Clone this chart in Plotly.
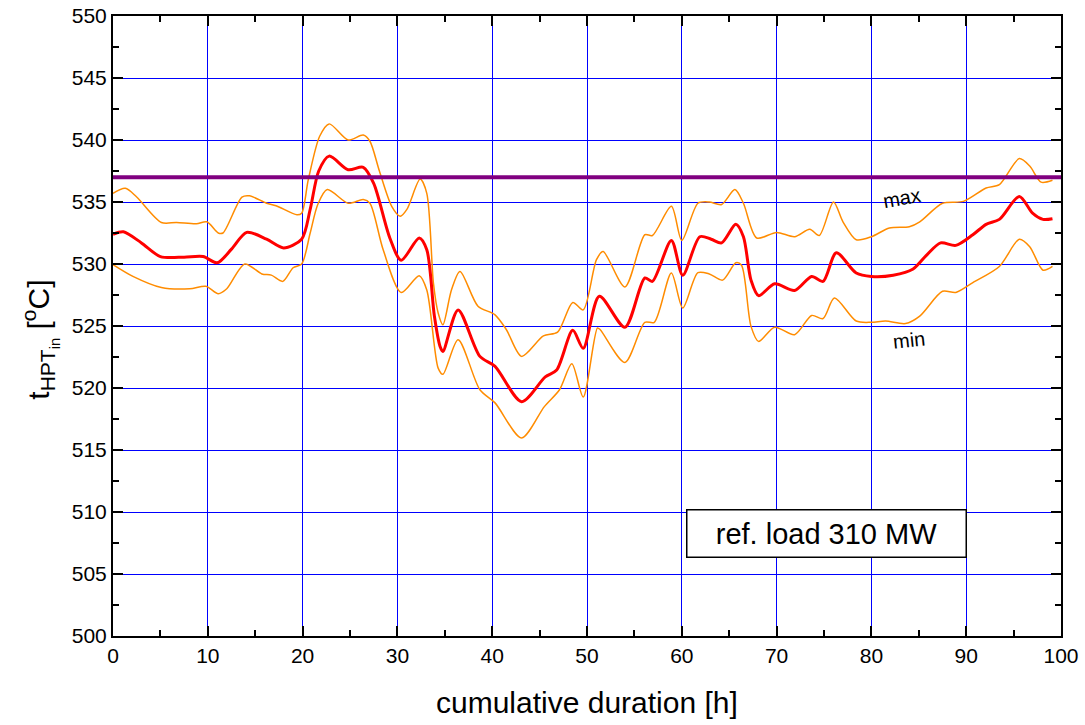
import plotly.graph_objects as go

# mean inlet temperature
mean_x = [0, 1.1, 3, 5, 7.5, 9.5, 11, 12.5, 14.1, 16.2, 18, 19.9, 20.8, 21.7, 22.8, 24.8, 26.4, 27.5, 29.2, 30.4,
          32.3, 33.1, 33.9, 34.5, 34.8, 36.4, 38.7, 40.3, 43.1, 45.6, 46.8, 48.5, 49.6, 51.3, 54.0, 56.1, 56.9,
          58.9, 60.1, 61.9, 63.1, 64.2, 65.7, 66.5, 67.3, 68.1, 69.8, 71.9, 73.7, 74.9, 76.3, 78.4, 80.0, 82.3,
          84.4, 85.8, 87.3, 88.9, 90.7, 92.1, 93.5, 95.6, 97.0, 98.1, 99.1]
mean_y = [532.4, 532.6, 531.7, 530.6, 530.55, 530.6, 530.1, 531.2, 532.55, 532.0, 531.3, 532.0, 534.4, 537.5,
          538.7, 537.6, 537.8, 536.5, 532.1, 530.3, 532.1, 531.15, 525.8, 523.35, 522.95, 526.3, 522.55, 521.75,
          518.9, 520.9, 521.45, 524.65, 523.2, 527.4, 524.9, 528.87, 528.6, 531.9, 529.1, 532.2, 532.0, 531.7,
          533.2, 532.2, 528.7, 527.45, 528.4, 527.87, 529.0, 528.6, 530.9, 529.27, 529.0, 529.1, 529.6, 530.7,
          531.7, 531.5, 532.36, 533.2, 533.6, 535.45, 534.1, 533.6, 533.65]

# upper envelope (max)
max_x = [0, 1.3, 2.5, 5.1, 6.7, 8.8, 9.9, 11.1, 11.6, 13.6, 14.4, 16.2, 17.2, 19.4, 19.9, 20.6, 21.8, 22.8, 24.8,
         26.4, 27.1, 28.1, 29.4, 30.3, 31.0, 32.4, 33.1, 33.8, 34.3, 34.8, 35.7, 36.6, 38.5, 40.3, 41.5, 43.1,
         45.4, 46.9, 48.5, 49.6, 51.0, 51.7, 54.0, 56.1, 56.9, 58.9, 60.0, 61.7, 62.9, 64.2, 65.6, 66.5, 67.9,
         70.0, 71.9, 73.5, 74.5, 76.0, 77.0, 78.4, 80.0, 81.9, 84.0, 85.1, 87.5, 89.7, 92.1, 93.5, 95.6, 96.7,
         97.9, 99.1]
max_y = [535.7, 536.1, 535.4, 533.35, 533.35, 533.25, 533.4, 532.5, 532.5, 535.4, 535.5, 534.9, 534.7, 533.97,
         534.1, 536.8, 540.3, 541.3, 540.0, 540.4, 539.9, 537.5, 534.65, 533.85, 534.4, 536.85, 535.7, 528.47,
         526.05, 525.1, 527.9, 529.4, 526.6, 525.9, 524.7, 522.55, 524.2, 524.5, 526.9, 526.3, 530.35, 531.0,
         528.15, 532.36, 532.3, 534.65, 531.9, 534.9, 535.0, 534.8, 536.0, 534.9, 532.1, 532.55, 532.2, 532.8,
         532.3, 535.0, 533.4, 531.96, 532.2, 532.9, 533.0, 533.4, 534.9, 535.05, 536.13, 536.4, 538.5, 537.9,
         536.6, 536.75]

# lower envelope (min)
min_x = [0, 2.1, 5.1, 8.1, 9.8, 11.1, 12.0, 13.9, 15.7, 16.7, 17.9, 19.0, 19.9, 20.8, 21.6, 22.6, 24.8, 26.4,
         27.1, 28.5, 30.4, 32.3, 33.1, 34.3, 34.8, 36.4, 38.7, 40.3, 43.1, 45.5, 47.1, 48.4, 49.6, 51.1, 51.4,
         54.0, 56.1, 57.1, 58.9, 60.1, 61.7, 62.9, 64.3, 65.7, 66.3, 67.3, 68.1, 69.8, 71.9, 73.7, 74.9, 76.1,
         78.4, 80.0, 81.5, 83.6, 85.1, 87.5, 88.9, 90.7, 93.5, 95.6, 96.7, 98.1, 99.1]
min_y = [529.95, 529.0, 528.1, 528.0, 528.2, 527.6, 528.0, 530.0, 529.2, 529.1, 528.6, 529.7, 530.0, 532.5,
         534.8, 536.0, 534.9, 535.2, 534.9, 531.15, 527.7, 529.05, 527.9, 521.6, 521.1, 523.9, 519.86, 518.8,
         515.97, 518.5, 519.86, 521.96, 519.27, 524.84, 524.7, 522.06, 525.3, 525.3, 529.27, 526.45, 529.3,
         529.2, 528.7, 530.1, 529.9, 524.97, 523.76, 524.9, 524.3, 525.85, 525.6, 527.26, 525.4, 525.3, 525.4,
         525.2, 525.8, 527.8, 527.7, 528.5, 529.8, 532.0, 531.4, 529.5, 529.8]

limit_x = [0, 100]
limit_y = [537, 537]

x_ticks = list(range(0, 101, 10))
y_ticks = list(range(500, 551, 5))

FONT = "Liberation Sans, Arial, sans-serif"

fig = go.Figure()
fig.add_trace(go.Scatter(x=max_x, y=max_y, mode="lines",
                         line=dict(color="#FF8C00", width=1.5, shape="spline", smoothing=0.8), showlegend=False))
fig.add_trace(go.Scatter(x=min_x, y=min_y, mode="lines",
                         line=dict(color="#FF8C00", width=1.5, shape="spline", smoothing=0.8), showlegend=False))
fig.add_trace(go.Scatter(x=mean_x, y=mean_y, mode="lines",
                         line=dict(color="#FF0000", width=3, shape="spline", smoothing=0.8), showlegend=False))
fig.add_trace(go.Scatter(x=limit_x, y=limit_y, mode="lines",
                         line=dict(color="#800080", width=4), showlegend=False))

axis_common = dict(showline=True, linecolor="black", linewidth=2, mirror="ticks",
                   ticks="inside", tickcolor="black", tickwidth=2, ticklen=10,
                   showgrid=True, gridcolor="#0000FF", gridwidth=1, zeroline=False,
                   automargin=False,
                   tickfont=dict(family=FONT, size=21, color="black"))

fig.update_xaxes(range=[0, 100], tickvals=x_ticks, ticktext=[str(v) for v in x_ticks],
                 minor=dict(ticks="inside", ticklen=6, tickcolor="black", tickwidth=2, dtick=5, showgrid=False),
                 **axis_common)
fig.update_yaxes(range=[500, 550], tickvals=y_ticks, ticktext=[str(v) for v in y_ticks],
                 minor=dict(ticks="inside", ticklen=6, tickcolor="black", tickwidth=2, dtick=2.5, showgrid=False),
                 **axis_common)

# axis titles as annotations for exact placement
fig.add_annotation(xref="paper", yref="paper", x=0.5, y=-0.108, xanchor="center", yanchor="middle",
                   showarrow=False, text="cumulative duration [h]",
                   font=dict(family=FONT, size=30, color="black"))
fig.add_annotation(xref="paper", yref="paper", x=-0.077, y=0.478, xanchor="center", yanchor="middle",
                   textangle=-90, showarrow=False,
                   text="t<sub>HPT<sub>in</sub></sub> [<sup>o</sup>C]",
                   font=dict(family=FONT, size=30, color="black"))

fig.add_annotation(x=75.3, y=508.3, text="ref. load 310 MW", showarrow=False,
                   font=dict(family=FONT, size=29, color="black"),
                   bordercolor="black", borderwidth=1.5, bgcolor="white",
                   borderpad=6, width=266, height=34)

fig.add_annotation(x=83.2, y=535.3, text="max", showarrow=False, textangle=-10,
                   font=dict(family=FONT, size=20, color="black"))
fig.add_annotation(x=84.0, y=523.9, text="min", showarrow=False, textangle=-6,
                   font=dict(family=FONT, size=20, color="black"))

fig.update_layout(width=1085, height=725, margin=dict(l=113, r=24, t=16, b=89),
                  plot_bgcolor="white", paper_bgcolor="white",
                  font=dict(family=FONT, color="black"))

fig.write_html("out.html")
